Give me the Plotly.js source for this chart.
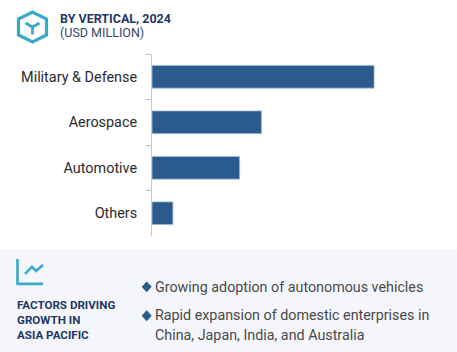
<!DOCTYPE html>
<html>
<head>
<meta charset="utf-8">
<script src="https://cdn.plot.ly/plotly-3.0.1.min.js"></script>
<style>html,body{margin:0;padding:0;background:#fff;overflow:hidden}</style>
</head>
<body>
<div id="chart" style="width:457px;height:352px"></div>
<script>
const categories = ["Military & Defense", "Aerospace", "Automotive", "Others"];
const values = [223, 110, 88, 21];
const axisMax = 250;
const headerTitle = "BY VERTICAL, 2024";
const headerUnit = "(USD MILLION)";
const factorLines = ["FACTORS DRIVING", "GROWTH IN", "ASIA PACIFIC"];
const bulletOne = ["Growing adoption of autonomous vehicles"];
const bulletTwo = ["Rapid expansion of domestic enterprises in", "China, Japan, India, and Australia"];

const W = 457, H = 352;
const m = {l: 152, r: 56, t: 53.5, b: 116};
const pw = W - m.l - m.r, ph = H - m.t - m.b;
const fx = p => (p - m.l) / pw;
const fy = p => 1 - (p - m.t) / ph;
const path = pts => pts.map((q, i) => (i ? "L" : "M") + fx(q[0]) + "," + fy(q[1])).join(" ");

const teal = "#3aa9c6", navy = "#1f3864", blue = "#2b5b8c", grey = "#4a4a4a";

function line(pts, color, width, close) {
  return {type: "path", xref: "paper", yref: "paper", layer: "below",
    path: path(pts) + (close ? " Z" : ""), line: {color: color, width: width}};
}
function text(px, py, str, size, color) {
  return {xref: "paper", yref: "paper", x: fx(px), y: fy(py), text: str, showarrow: false,
    xanchor: "left", yanchor: "middle", align: "left", borderpad: 0,
    font: {family: "Roboto, sans-serif", size: size, color: color}};
}

const shapes = [
  {type: "rect", xref: "paper", yref: "paper", layer: "below",
   x0: fx(0), x1: fx(W), y0: fy(249), y1: fy(H), fillcolor: "#f4f6fb", line: {width: 0}},
  line([[32.5,11.5],[46.5,18.5],[46.5,34.5],[32.5,41.5],[18.5,34.5],[18.5,18.5]], teal, 3.2, true),
  line([[25.5,22.5],[32.5,26.5],[39.5,22.5]], teal, 2.8, false),
  line([[32.5,26.5],[32.5,34]], teal, 2.8, false),
  line([[17.5,259],[17.5,284],[43,284]], teal, 2.6, false),
  line([[25,274],[32,267],[36,271],[43,265]], teal, 2.6, false),
];
[[146.7,287],[146.7,316]].forEach(c => {
  shapes.push({type: "path", xref: "paper", yref: "paper", layer: "above",
    path: path([[c[0]-5,c[1]],[c[0],c[1]-5.5],[c[0]+5,c[1]],[c[0],c[1]+5.5]]) + " Z",
    fillcolor: blue, line: {width: 0}});
});

const annotations = [
  text(58.5, 17.5, "<b>" + headerTitle + "</b>", 12.5, navy),
  text(58.5, 32, headerUnit, 12.5, "#35466e"),
  text(16, 305, "<b>" + factorLines[0] + "</b>", 11.6, navy),
  text(16, 320, "<b>" + factorLines[1] + "</b>", 11.6, navy),
  text(16, 335.5, "<b>" + factorLines[2] + "</b>", 11.6, navy),
  text(154, 287, bulletOne[0], 14.3, grey),
  text(154, 315.5, bulletTwo[0], 14.3, grey),
  text(154, 335.5, bulletTwo[1], 14.3, grey),
];

Plotly.newPlot("chart", [{
  type: "bar", orientation: "h", y: categories, x: values,
  marker: {color: blue, line: {color: "#a9c4dc", width: 0.8}},
  hoverinfo: "skip"
}], {
  width: W, height: H, margin: m, showlegend: false,
  paper_bgcolor: "#ffffff", plot_bgcolor: "rgba(0,0,0,0)",
  bargap: 0.5,
  font: {family: "Roboto, sans-serif"},
  xaxis: {range: [0, axisMax], visible: false, fixedrange: true},
  yaxis: {type: "category", autorange: "reversed", tickson: "boundaries", ticks: "outside",
    ticklen: 5, tickcolor: "#bdbdbd", tickwidth: 1, showline: true, linecolor: "#c8c8c8", linewidth: 1,
    showgrid: false, zeroline: false, ticklabelstandoff: 11,
    tickfont: {family: "Roboto, sans-serif", size: 14.4, color: "#2b2b2b"}, fixedrange: true},
  shapes: shapes,
  annotations: annotations
}, {displayModeBar: false, staticPlot: true});
</script>
</body>
</html>
